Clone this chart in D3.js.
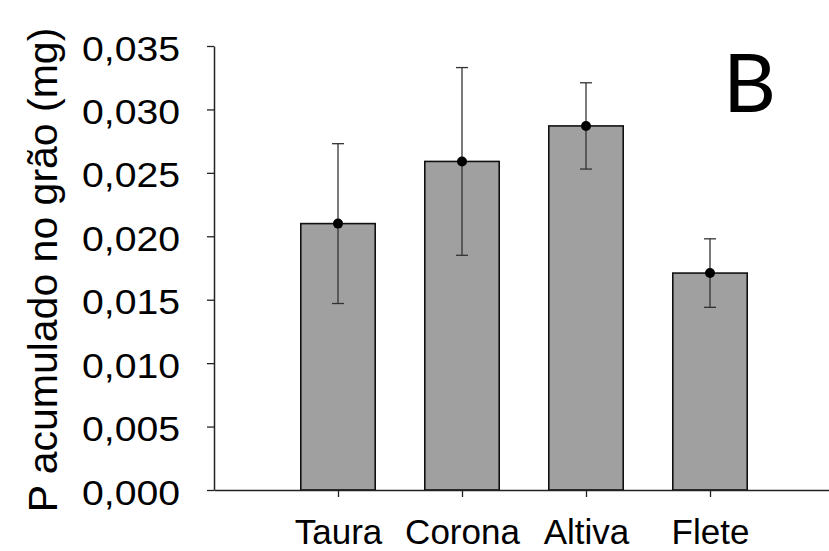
<!DOCTYPE html>
<html>
<head>
<meta charset="utf-8">
<script src="https://cdn.jsdelivr.net/npm/d3@7/dist/d3.min.js"></script>
<style>
  html, body { margin: 0; padding: 0; background: #fff; }
  svg { display: block; }
</style>
</head>
<body>
<svg id="chart" width="829" height="551"></svg>
<script>
// ---- data ----
const categories = ["Taura", "Corona", "Altiva", "Flete"];
const means = [0.0210, 0.0259, 0.0287, 0.0171];
const errors = [0.0063, 0.0074, 0.0034, 0.0027];
const yTicks = [0, 0.005, 0.010, 0.015, 0.020, 0.025, 0.030, 0.035];
const yTitle = "P acumulado no grão (mg)";
const panelLabel = "B";

// ---- layout ----
const svg = d3.select("#chart");
const x = d3.scaleLinear().domain([0, 5]).range([214, 834]);
const y = d3.scaleLinear().domain([0, 0.035]).range([490, 46]);
const barW = x(0.6) - x(0);
const locale = d3.formatLocale({decimal: ",", thousands: ".", grouping: [3], currency: ["", ""]});
const fmt = locale.format(".3f");

const data = categories.map((c, i) => ({c, pos: i + 1, m: means[i], e: errors[i]}));

// bars
svg.append("g").selectAll("rect").data(data).join("rect")
  .attr("x", d => x(d.pos) - barW / 2)
  .attr("width", barW)
  .attr("y", d => y(d.m))
  .attr("height", d => y(0) - y(d.m))
  .attr("fill", "#a0a0a0")
  .attr("stroke", "#111")
  .attr("stroke-width", 1.6);

// error bars
const eb = svg.append("g").attr("stroke", "#333").attr("stroke-width", 1.3).attr("fill", "none");
eb.selectAll("line.v").data(data).join("line").attr("class", "v")
  .attr("x1", d => x(d.pos)).attr("x2", d => x(d.pos))
  .attr("y1", d => y(d.m + d.e)).attr("y2", d => y(d.m - d.e));
eb.selectAll("line.t").data(data).join("line").attr("class", "t")
  .attr("x1", d => x(d.pos) - 6).attr("x2", d => x(d.pos) + 6)
  .attr("y1", d => y(d.m + d.e)).attr("y2", d => y(d.m + d.e));
eb.selectAll("line.b").data(data).join("line").attr("class", "b")
  .attr("x1", d => x(d.pos) - 6).attr("x2", d => x(d.pos) + 6)
  .attr("y1", d => y(d.m - d.e)).attr("y2", d => y(d.m - d.e));

// points
svg.append("g").selectAll("circle").data(data).join("circle")
  .attr("cx", d => x(d.pos)).attr("cy", d => y(d.m)).attr("r", 5).attr("fill", "#000");

// y axis
const yAxis = svg.append("g").attr("transform", `translate(${x(0)},0)`)
  .call(d3.axisLeft(y).tickValues(yTicks).tickFormat(fmt).tickSize(7).tickPadding(27).tickSizeOuter(0));
yAxis.select(".domain").attr("stroke", "#222").attr("stroke-width", 1.5);
yAxis.selectAll(".tick line").attr("stroke", "#222").attr("stroke-width", 1.3);
yAxis.selectAll(".tick text")
  .attr("font-family", "'Liberation Sans', Arial, sans-serif")
  .attr("font-size", 35).attr("fill", "#000").attr("dy", "0.4em")
  .attr("textLength", 98).attr("lengthAdjust", "spacingAndGlyphs");

// x axis
const xAxis = svg.append("g").attr("transform", `translate(0,${y(0)})`)
  .call(d3.axisBottom(x).tickValues(data.map(d => d.pos)).tickFormat((v, i) => categories[i])
    .tickSize(7).tickPadding(30).tickSizeOuter(0));
xAxis.select(".domain").attr("stroke", "#222").attr("stroke-width", 1.5);
xAxis.selectAll(".tick line").attr("stroke", "#222").attr("stroke-width", 1.3);
xAxis.selectAll(".tick text")
  .attr("font-family", "'Liberation Sans', Arial, sans-serif")
  .attr("font-size", 35).attr("fill", "#000").attr("dy", null)
  .attr("y", 54);

// y title
svg.append("text")
  .attr("transform", "translate(57,270) rotate(-90)")
  .attr("text-anchor", "middle")
  .attr("font-family", "'Liberation Sans', Arial, sans-serif")
  .attr("font-size", 41).attr("fill", "#000")
  .text(yTitle);

// panel label
svg.append("text")
  .attr("x", 723).attr("y", 112)
  .attr("font-family", "Lato, 'Open Sans', sans-serif")
  .attr("font-size", 82).attr("fill", "#000")
  .text(panelLabel);
</script>
</body>
</html>
